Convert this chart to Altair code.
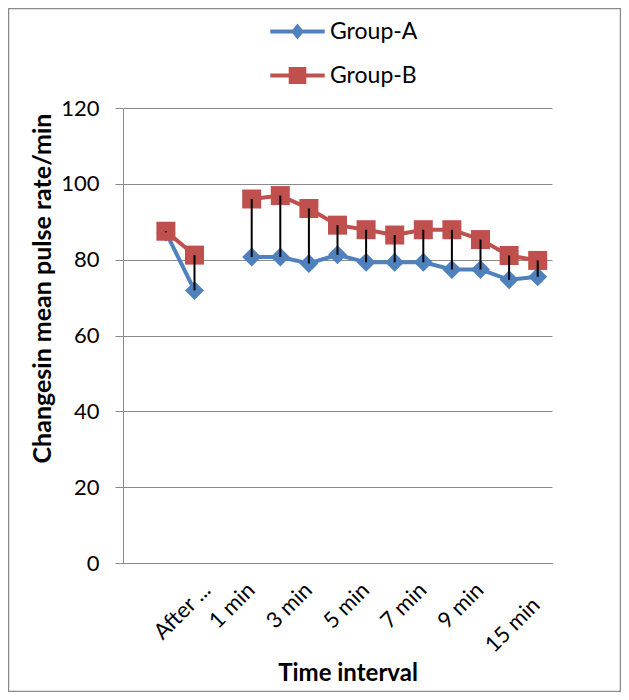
import altair as alt
import pandas as pd

# ---- data ----
categories = ["Baseline", "Before ...", "After ...", "0 min", "1 min", "2 min", "3 min",
              "4 min", "5 min", "6 min", "7 min", "8 min", "9 min", "10 min", "15 min"]
shown_labels = ["After ...", "1 min", "3 min", "5 min", "7 min", "9 min", "15 min"]
group_a = [None, 87.2, 71.9, None, 80.7, 80.7, 79.0, 81.3, 79.3, 79.3, 79.3, 77.4, 77.4, 74.7, 75.5]
group_b = [None, 87.5, 81.2, None, 96.0, 96.9, 93.5, 89.1, 87.9, 86.5, 87.9, 87.9, 85.3, 81.1, 79.8]
groups = ["Group-A", "Group-B"]
colors = ["#4F81BD", "#C0504D"]
y_ticks = [0, 20, 40, 60, 80, 100, 120]

# ---- tables built from the arrays ----
rows = []
for g, vals in zip(groups, [group_a, group_b]):
    seg = 0
    prev_none = True
    for c, v in zip(categories, vals):
        if v is None:
            prev_none = True
            continue
        if prev_none:
            seg += 1
            prev_none = False
        rows.append({"cat": c, "group": g, "value": v, "seg": seg})
long_df = pd.DataFrame(rows)

wide_df = pd.DataFrame([
    {"cat": c, "A": a, "B": b}
    for c, a, b in zip(categories, group_a, group_b)
    if a is not None and b is not None
])

GRAY = "#8a8a8a"
FONT = "Lato"

x_axis = alt.Axis(
    values=shown_labels, labelAngle=315, labelAlign="right", labelBaseline="top",
    ticks=False, tickSize=0, grid=False, domainColor=GRAY, domainWidth=1,
    labelFont=FONT, labelFontSize=22, labelColor="black", labelOverlap=False,
    labelPadding={"condition": {"test": "datum.value === '15 min'", "value": 31}, "value": 16},
    labelOffset={"condition": [
        {"test": "datum.value === 'After ...'", "value": 5},
        {"test": "datum.value === '15 min'", "value": -9},
    ], "value": -8},
    title="Time interval", titleFont=FONT, titleFontSize=24, titleFontWeight="bold",
    titleColor="black", titleX=224.5, titleY=117, titleBaseline="alphabetic",
    titleAlign="center",
)
y_axis = alt.Axis(
    values=y_ticks, grid=True, gridColor=GRAY, gridWidth=1,
    tickColor=GRAY, tickSize=8, tickWidth=1, domainColor=GRAY, domainWidth=1,
    labelFont=FONT, labelFontSize=22, labelColor="black", labelPadding=16,
    title="Changesin mean pulse rate/min", titleFont=FONT, titleFontSize=25,
    titleFontWeight="bold", titleColor="black", titleAngle=270,
    titleX=-73, titleY=180, titleBaseline="alphabetic", titleAlign="center",
)

x_enc = alt.X("cat:N", sort=categories,
              scale=alt.Scale(type="point", domain=categories, padding=0.5), axis=x_axis)
y_scale = alt.Scale(domain=[0, 120], nice=False)

color_scale = alt.Scale(domain=groups, range=colors)

diamond_path = "M-1,0L0,-1L1,0L0,1Z"
square_path = "M-1,-1H1V1H-1Z"

lines = alt.Chart(long_df).mark_line(strokeWidth=4).encode(
    x=x_enc,
    y=alt.Y("value:Q", scale=y_scale, axis=y_axis),
    color=alt.Color("group:N", scale=color_scale, legend=None),
    detail="seg:N",
)

points = alt.Chart(long_df).mark_point(filled=True, size=361, opacity=1).encode(
    x=x_enc,
    y=alt.Y("value:Q", scale=y_scale, axis=y_axis),
    color=alt.Color("group:N", scale=color_scale, legend=None),
    shape=alt.Shape("group:N", scale=alt.Scale(domain=groups, range=[diamond_path, square_path]),
                    legend=None),
)

hilo = alt.Chart(wide_df).mark_rule(color="black", strokeWidth=2).encode(
    x=x_enc,
    y=alt.Y("A:Q", scale=y_scale, axis=y_axis),
    y2="B:Q",
)

path_a = "M-3.4,-0.25H3.4V0.25H-3.4Z M0,-1L0.8,0L0,1L-0.8,0Z"
path_b = "M-3.4,-0.25H3.4V0.25H-3.4Z M-1.1,-1.05H1.1V1.05H-1.1Z"

legend = alt.Legend(
    title=None, orient="none", legendX=163, legendY=-88, direction="vertical",
    labelFont=FONT, labelFontSize=23, labelColor="black", labelOffset=21,
    rowPadding=20, symbolStrokeWidth=0, symbolSize=256, padding=0,
)

legend_layer = alt.Chart(long_df).transform_filter("false").mark_point(
    filled=True, size=256, opacity=1
).encode(
    color=alt.Color("group:N", scale=alt.Scale(domain=groups, range=colors), legend=legend),
    shape=alt.Shape("group:N", scale=alt.Scale(domain=groups, range=[path_a, path_b]),
                    legend=legend),
)

frame = alt.Chart(pd.DataFrame({"f": [0]})).mark_rect(
    fill="transparent", stroke=GRAY, strokeWidth=1.5
).encode(
    x=alt.value(-114.5), x2=alt.value(497.5), y=alt.value(-99.5), y2=alt.value(583.5)
)

chart = alt.layer(frame, lines, points, hilo, legend_layer).resolve_scale(
    color="independent", shape="independent"
).properties(
    width=429, height=455,
    padding={"left": 115, "top": 100, "right": 69, "bottom": 129},
    autosize=alt.AutoSizeParams(type="none"),
    background="white",
).configure_view(stroke="transparent")

chart.save("out.html", embed_options={"renderer": "svg", "actions": False})
